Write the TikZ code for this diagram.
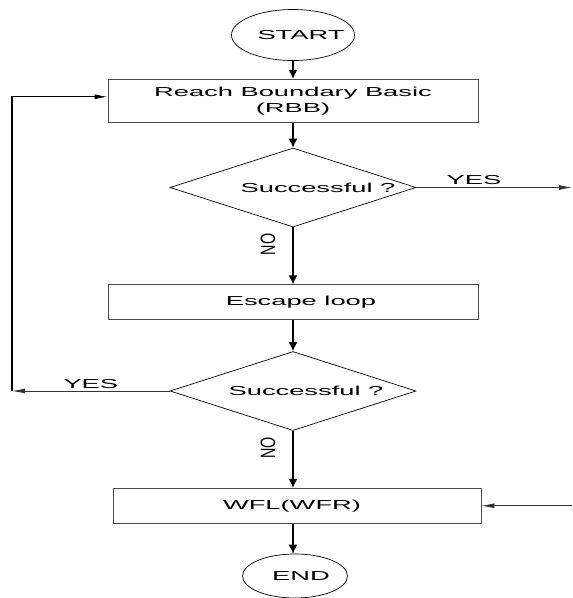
\documentclass[tikz,border=0pt]{standalone}
\usepackage{fontspec}
\setmainfont{Liberation Sans}
\usepackage{graphicx}
\usetikzlibrary{arrows.meta,positioning,shapes.geometric}
% wide lettering of the scanned chart
\newcommand{\wide}[1]{\makebox[0pt]{\scalebox{2.1}[1]{#1}}}
\newcommand{\tall}[1]{\scalebox{1.1}[1.6]{#1}}
\tikzset{
  proc/.style={rectangle, draw=black!70, line width=0.8pt, minimum width=370pt,
               minimum height=35pt, inner sep=0pt, align=center},
  term/.style={ellipse, draw=black, line width=0.7pt, inner sep=0pt},
  dec/.style={diamond, draw=black, line width=0.7pt, aspect=3.1,
              minimum width=246pt, minimum height=79pt, inner sep=0pt},
  flow/.style={-{Latex[length=9pt,width=9pt]}, line width=1.3pt},
  back/.style={-{Latex[length=13pt,width=5pt]}, line width=0.8pt, draw=black!80},
  lbl/.style={inner sep=2pt},
  nolbl/.style={rotate=90, anchor=south, inner xsep=0pt, inner ysep=17pt},
}

\begin{document}
\begin{tikzpicture}[font=\fontsize{13}{16}\selectfont]
  \useasboundingbox (0,0) rectangle (573pt,-598pt);
  \coordinate (lx) at (12pt,0);
  \coordinate (rx) at (572pt,0);

  \node[term, minimum width=123pt, minimum height=51pt] (start) at (293pt,-35pt)
       {\hspace*{16pt}\wide{START}};
  \node[proc, below=18pt of start, minimum height=43pt] (rbb)
       {\wide{Reach Boundary Basic}\\\wide{(RBB)}};
  \node[dec, below=25pt of rbb] (d1) {\hspace*{50pt}\wide{Successful ?}};
  \node[proc, below=57pt of d1] (esc) {\hspace*{16pt}\wide{Escape loop}};
  \node[dec, below=31pt of esc] (d2) {\hspace*{26pt}\wide{Successful ?}};
  \node[proc, below=57pt of d2, xshift=4pt, minimum width=368pt] (wfl)
       {\hspace*{-10pt}\wide{WFL(WFR)}};
  \node[term, below=30pt of wfl, xshift=-2pt, minimum width=105pt, minimum height=44pt] (end)
       {\hspace*{12pt}\wide{END}};

  \draw[flow] (start) -- (rbb);
  \draw[flow] (rbb) -- (d1);
  \draw[flow] (d1) -- node[nolbl, pos=0.3] {\tall{NO}} (esc);
  \draw[flow] (esc) -- (d2);
  \draw[flow] (d2) -- node[nolbl, pos=0.3] {\tall{NO}} (d2 |- wfl.north);
  \draw[flow] (wfl.south -| d2) -- (end.north -| d2);

  \draw[back] (d1.east) -- node[lbl, pos=0.37, above] {\wide{YES}} (d1.east -| rx);
  \draw[back] (d2.west) -- node[lbl, midway, above] {\wide{YES}} (d2.west -| lx);
  \draw[back, draw=black, line width=1.1pt] (d2.west -| lx) |- ([yshift=4pt]rbb.west);
  \draw[back] (wfl.east -| rx) -- (wfl.east);
\end{tikzpicture}
\end{document}
